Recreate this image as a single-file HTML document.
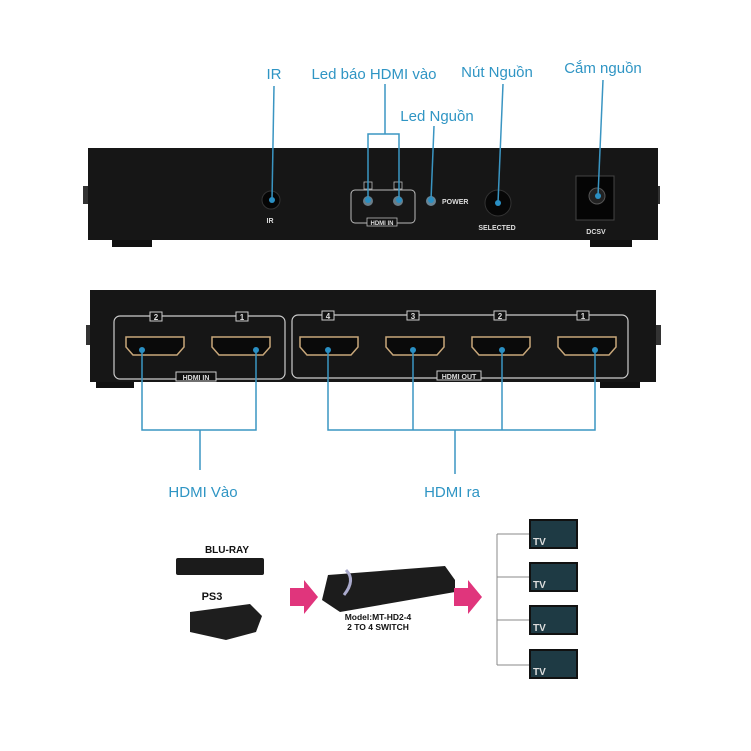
<!DOCTYPE html>
<html><head><meta charset="utf-8"><style>
body{margin:0;background:#fff;}
svg{display:block;}
.l{font-family:"Liberation Sans",sans-serif;font-size:15px;fill:#2f95c4;}
.w{font-family:"Liberation Sans",sans-serif;font-weight:bold;fill:#ddd;}
.k{font-family:"Liberation Sans",sans-serif;font-weight:bold;fill:#111;}
</style></head><body>
<svg width="751" height="751" viewBox="0 0 751 751" xmlns="http://www.w3.org/2000/svg">
<rect width="751" height="751" fill="#fff"/>
<!-- top device -->
<rect x="112" y="238" width="40" height="9" fill="#111"/>
<rect x="590" y="238" width="42" height="9" fill="#111"/>
<rect x="83" y="186" width="8" height="18" fill="#333"/>
<rect x="652" y="186" width="8" height="18" fill="#333"/>
<rect x="88" y="148" width="570" height="92" fill="#161616"/>
<circle cx="271" cy="200" r="9" fill="#050505" stroke="#333"/>
<text x="270" y="223" class="w" font-size="7" text-anchor="middle">IR</text>
<rect x="351" y="190" width="64" height="33" rx="4" fill="none" stroke="#bbb" stroke-width="1"/>
<rect x="364" y="182" width="8" height="7" fill="#111" stroke="#bbb" stroke-width="0.8"/>
<rect x="394" y="182" width="8" height="7" fill="#111" stroke="#bbb" stroke-width="0.8"/>
<rect x="367" y="218" width="30" height="8" fill="#111" stroke="#bbb" stroke-width="0.8"/>
<text x="382" y="225" class="w" font-size="6" text-anchor="middle">HDMI IN</text>
<circle cx="368" cy="201" r="5" fill="#6a7d88"/>
<circle cx="398" cy="201" r="5" fill="#6a7d88"/>
<circle cx="431" cy="201" r="5" fill="#6a8494"/>
<text x="442" y="204" class="w" font-size="7">POWER</text>
<circle cx="498" cy="203" r="13" fill="#070707" stroke="#333"/>
<text x="497" y="230" class="w" font-size="7" text-anchor="middle">SELECTED</text>
<rect x="576" y="176" width="38" height="44" fill="#050505" stroke="#444"/>
<circle cx="597" cy="196" r="8" fill="#222" stroke="#555"/>
<text x="596" y="234" class="w" font-size="7" text-anchor="middle">DCSV</text>
<!-- top callouts -->
<g stroke="#3a95c2" stroke-width="1.5" fill="none">
<line x1="274" y1="86" x2="272" y2="200"/>
<line x1="385" y1="84" x2="385" y2="134"/>
<polyline points="368,200 368,134 399,134 399,200"/>
<line x1="434" y1="126" x2="431" y2="200"/>
<line x1="503" y1="84" x2="498" y2="203"/>
<line x1="603" y1="80" x2="598" y2="196"/>
</g>
<g fill="#2a8fc3"><circle cx="272" cy="200" r="3"/><circle cx="368" cy="200" r="3"/><circle cx="399" cy="200" r="3"/><circle cx="431" cy="200" r="3"/><circle cx="498" cy="203" r="3"/><circle cx="598" cy="196" r="3"/></g>
<text x="274" y="79" class="l" text-anchor="middle">IR</text>
<text x="374" y="79" class="l" text-anchor="middle">Led báo HDMI vào</text>
<text x="437" y="121" class="l" text-anchor="middle">Led Nguồn</text>
<text x="497" y="77" class="l" text-anchor="middle">Nút Nguồn</text>
<text x="603" y="73" class="l" text-anchor="middle">Cắm nguồn</text>
<!-- bottom device -->
<rect x="96" y="380" width="38" height="8" fill="#111"/>
<rect x="600" y="380" width="40" height="8" fill="#111"/>
<rect x="86" y="325" width="7" height="20" fill="#333"/>
<rect x="654" y="325" width="7" height="20" fill="#333"/>
<rect x="90" y="290" width="566" height="92" fill="#161616"/>
<g stroke="#ccc" stroke-width="1.2" fill="none">
<rect x="114" y="316" width="171" height="63" rx="6"/>
<rect x="292" y="315" width="336" height="63" rx="6"/>
</g>
<g font-size="8">
<rect x="150" y="312" width="12" height="9" fill="#111" stroke="#ccc"/><text x="156" y="320" class="w" font-size="8" text-anchor="middle">2</text>
<rect x="236" y="312" width="12" height="9" fill="#111" stroke="#ccc"/><text x="242" y="320" class="w" font-size="8" text-anchor="middle">1</text>
<rect x="322" y="311" width="12" height="9" fill="#111" stroke="#ccc"/><text x="328" y="319" class="w" font-size="8" text-anchor="middle">4</text>
<rect x="407" y="311" width="12" height="9" fill="#111" stroke="#ccc"/><text x="413" y="319" class="w" font-size="8" text-anchor="middle">3</text>
<rect x="494" y="311" width="12" height="9" fill="#111" stroke="#ccc"/><text x="500" y="319" class="w" font-size="8" text-anchor="middle">2</text>
<rect x="577" y="311" width="12" height="9" fill="#111" stroke="#ccc"/><text x="583" y="319" class="w" font-size="8" text-anchor="middle">1</text>
<rect x="176" y="372" width="40" height="9" fill="#111" stroke="#ccc"/><text x="196" y="380" class="w" font-size="7" text-anchor="middle">HDMI IN</text>
<rect x="437" y="371" width="44" height="9" fill="#111" stroke="#ccc"/><text x="459" y="379" class="w" font-size="7" text-anchor="middle">HDMI OUT</text>
</g>
<g fill="#0a0a0a" stroke="#c8a77a" stroke-width="1.5">
<path d="M126,337 h58 v10 l-7,8 h-44 l-7,-8z"/>
<path d="M212,337 h58 v10 l-7,8 h-44 l-7,-8z"/>
<path d="M300,337 h58 v10 l-7,8 h-44 l-7,-8z"/>
<path d="M386,337 h58 v10 l-7,8 h-44 l-7,-8z"/>
<path d="M472,337 h58 v10 l-7,8 h-44 l-7,-8z"/>
<path d="M558,337 h58 v10 l-7,8 h-44 l-7,-8z"/>
</g>
<g stroke="#3a95c2" stroke-width="1.5" fill="none">
<polyline points="142,350 142,430 256,430 256,350"/>
<line x1="200" y1="430" x2="200" y2="470"/>
<polyline points="328,350 328,430 595,430 595,350"/>
<line x1="413" y1="350" x2="413" y2="430"/>
<line x1="502" y1="350" x2="502" y2="430"/>
<line x1="455" y1="430" x2="455" y2="474"/>
</g>
<g fill="#2a8fc3"><circle cx="142" cy="350" r="3"/><circle cx="256" cy="350" r="3"/><circle cx="328" cy="350" r="3"/><circle cx="413" cy="350" r="3"/><circle cx="502" cy="350" r="3"/><circle cx="595" cy="350" r="3"/></g>
<text x="203" y="497" class="l" text-anchor="middle">HDMI Vào</text>
<text x="452" y="497" class="l" text-anchor="middle">HDMI ra</text>
<!-- bottom diagram -->
<text x="227" y="553" class="k" font-size="10" text-anchor="middle">BLU-RAY</text>
<rect x="176" y="558" width="88" height="17" rx="2" fill="#1b1b1b"/>
<text x="212" y="600" class="k" font-size="11" text-anchor="middle">PS3</text>
<path d="M190,612 L250,604 L262,616 L256,632 L226,640 L190,632z" fill="#1e1e1e"/>
<path d="M290,588 h14 v-8 l14,17 l-14,17 v-8 h-14z" fill="#e0357c"/>
<path d="M328,575 L445,566 L455,580 L455,592 L340,612 L322,600z" fill="#1c1c1c"/>
<path d="M346,570 q10,10 -2,25" stroke="#aac" stroke-width="3" fill="none"/>
<text x="378" y="620" class="k" font-size="8.5" text-anchor="middle">Model:MT-HD2-4</text>
<text x="378" y="630" class="k" font-size="8.5" text-anchor="middle">2 TO 4 SWITCH</text>
<path d="M454,588 h14 v-8 l14,17 l-14,17 v-8 h-14z" fill="#e0357c"/>
<g stroke="#888" stroke-width="1" fill="none">
<line x1="497" y1="534" x2="497" y2="665"/>
<line x1="497" y1="534" x2="530" y2="534"/>
<line x1="497" y1="577" x2="530" y2="577"/>
<line x1="497" y1="620" x2="530" y2="620"/>
<line x1="497" y1="665" x2="530" y2="665"/>
</g>
<g>
<rect x="530" y="520" width="47" height="28" fill="#1e3a44" stroke="#111" stroke-width="2"/>
<rect x="530" y="563" width="47" height="28" fill="#1e3a44" stroke="#111" stroke-width="2"/>
<rect x="530" y="606" width="47" height="28" fill="#1e3a44" stroke="#111" stroke-width="2"/>
<rect x="530" y="650" width="47" height="28" fill="#1e3a44" stroke="#111" stroke-width="2"/>
<text x="533" y="545" class="w" font-size="10" fill="#fff">TV</text>
<text x="533" y="588" class="w" font-size="10">TV</text>
<text x="533" y="631" class="w" font-size="10">TV</text>
<text x="533" y="675" class="w" font-size="10">TV</text>
</g>
</svg>
</body></html>
